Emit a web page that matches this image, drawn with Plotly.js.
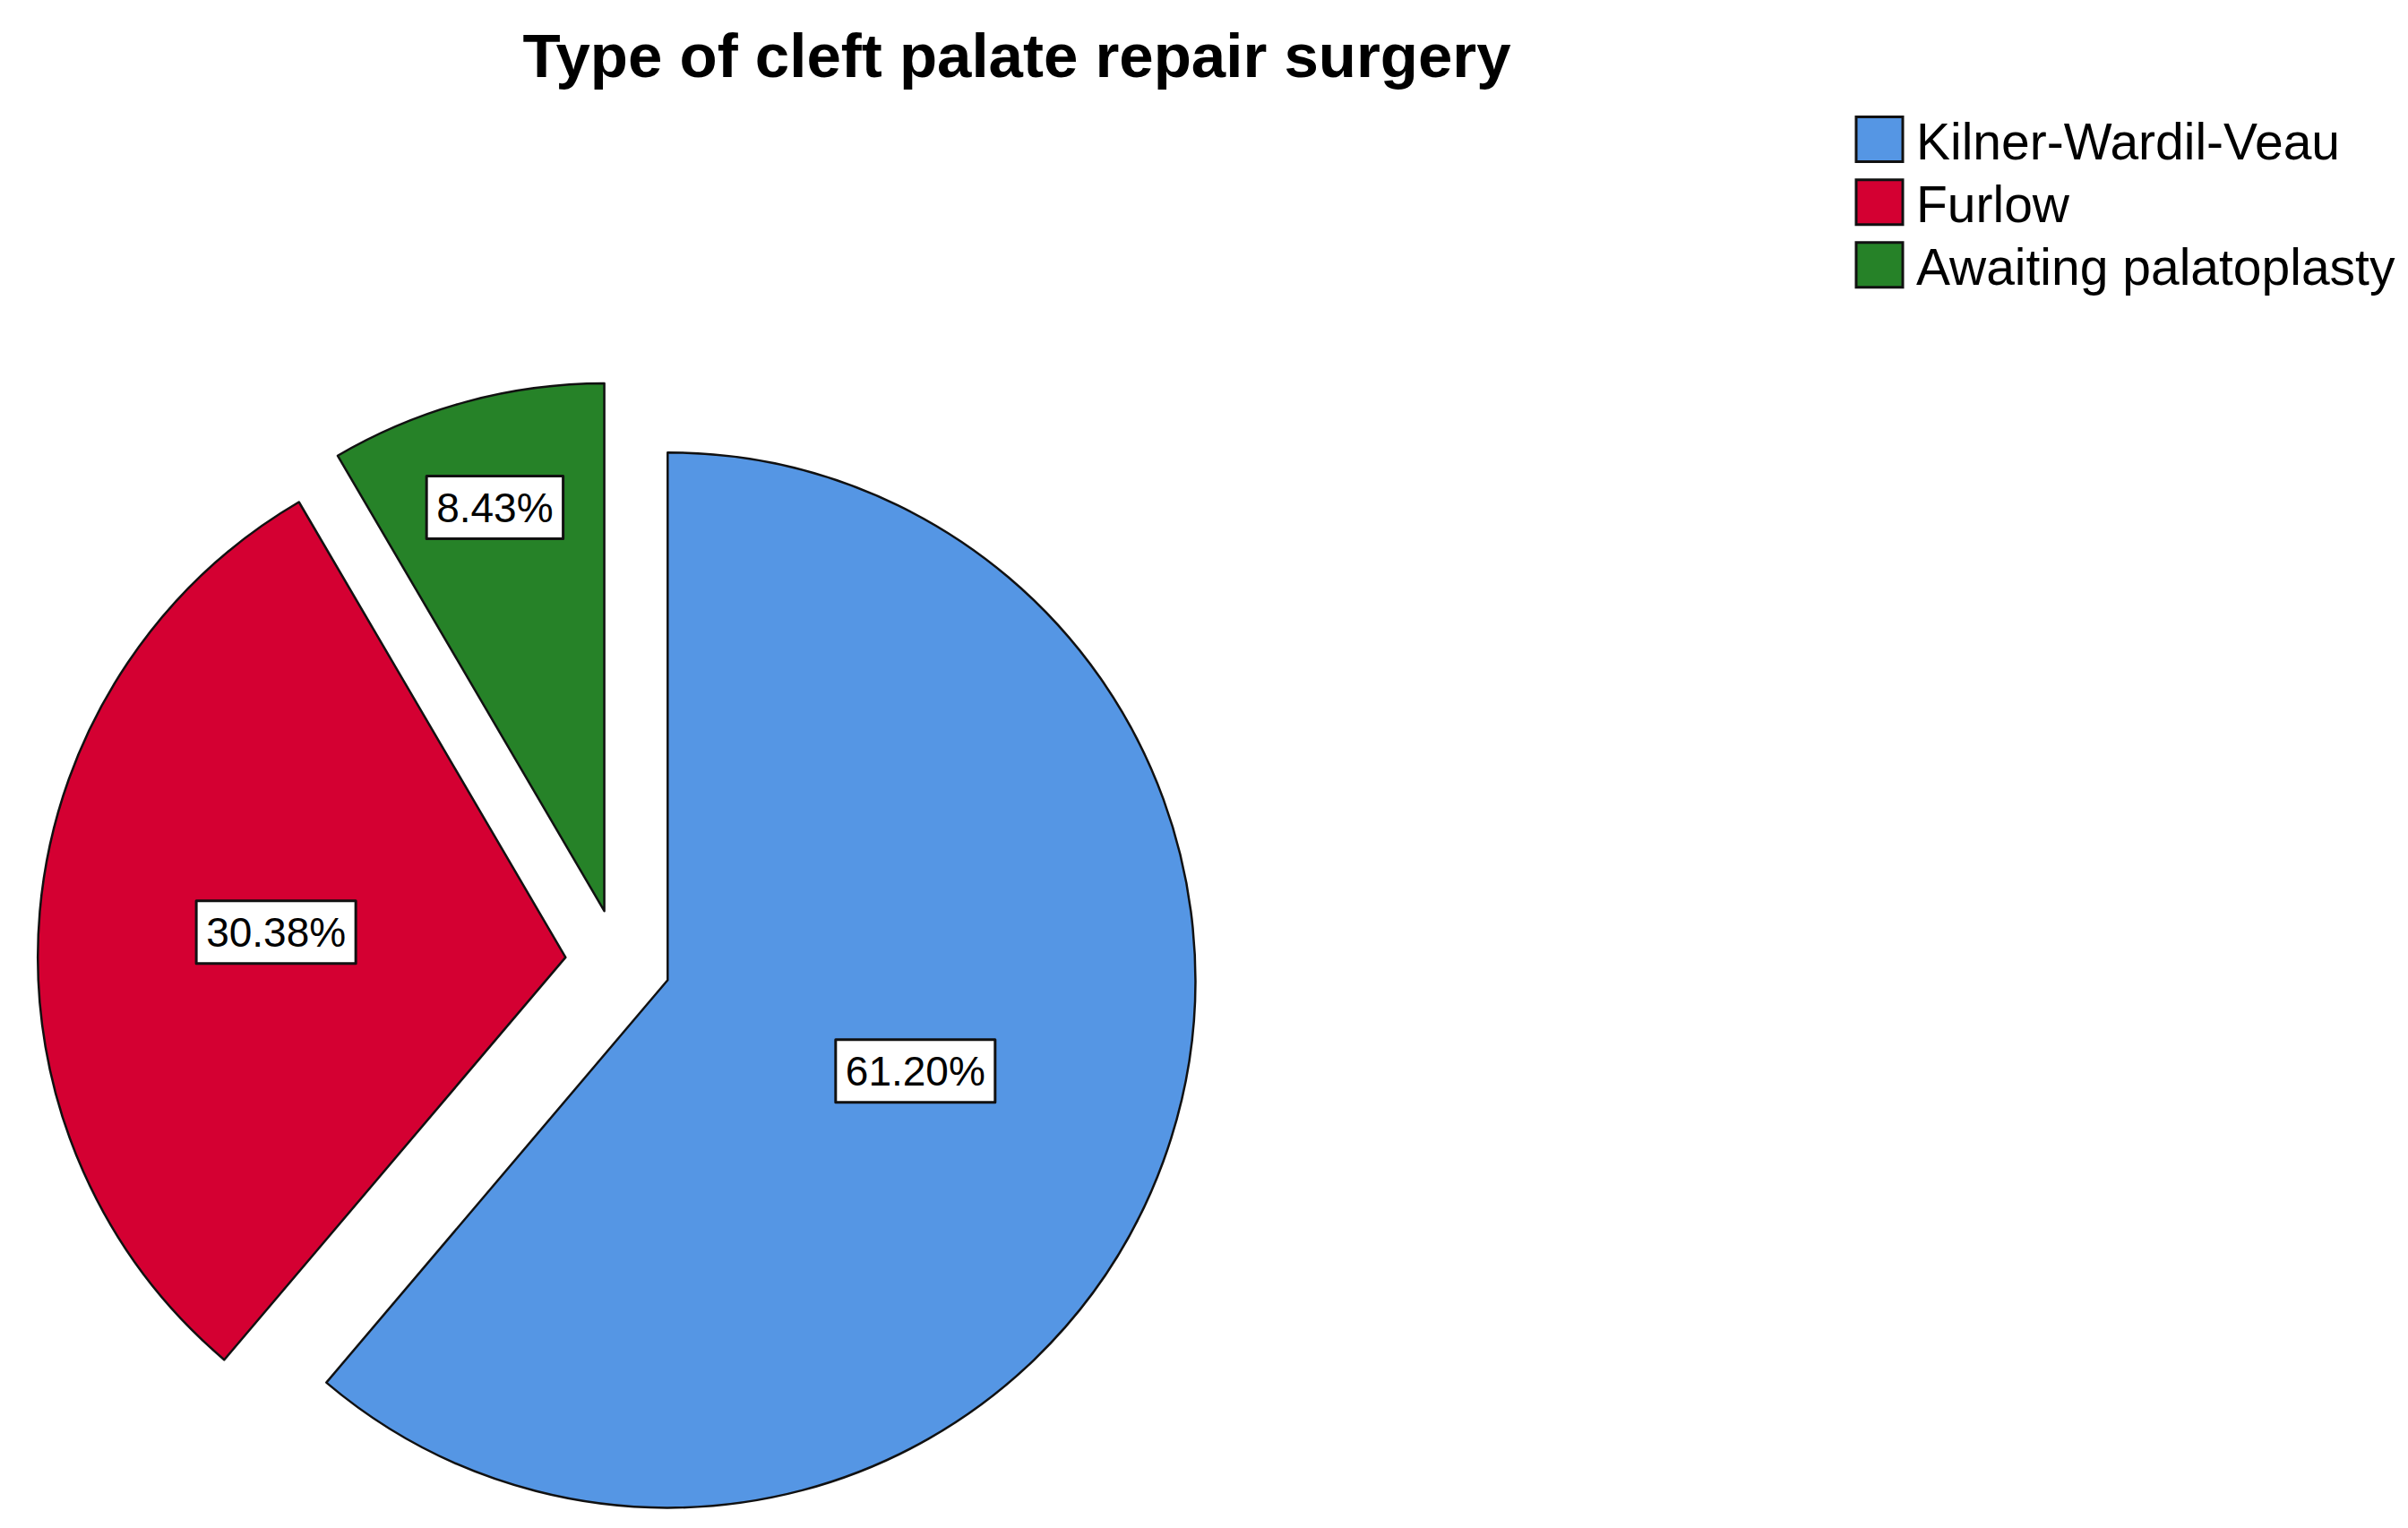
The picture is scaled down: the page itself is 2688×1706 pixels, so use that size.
<!DOCTYPE html>
<html>
<head>
<meta charset="utf-8">
<script src="https://cdn.plot.ly/plotly-3.0.1.min.js"></script>
<style>html,body{margin:0;padding:0;background:#fff;overflow:hidden;}#chart{width:2688px;height:1722px;}</style>
</head>
<body>
<div id="chart"></div>
<script>
const categories = ["Kilner-Wardil-Veau", "Furlow", "Awaiting palatoplasty"];
const percents = [61.20, 30.38, 8.43];
const sliceColors = ["#5596e4", "#d40032", "#268228"];
const chartTitle = "Type of cleft palate repair surgery";

const W = 2688, H = 1722;   // a few px taller than the window so the pie can sit low
const CX = 690, HALF = 648;
const trace = {
  type: "pie",
  labels: categories,
  values: percents,
  sort: false,
  direction: "clockwise",
  rotation: 0,
  pull: [0.1, 0.1, 0.1],
  marker: { colors: sliceColors, line: { color: "#111", width: 2.5 } },
  texttemplate: "%{value:.2f}%",
  textposition: "inside",
  insidetextorientation: "horizontal",
  textfont: { family: "Liberation Sans, Arial, sans-serif", size: 46, color: "#000" },
  hoverinfo: "none",
  domain: { x: [(CX - HALF) / W, (CX + HALF) / W], y: [0, (2 * HALF) / H] }
};

const layout = {
  width: W, height: H,
  margin: { l: 0, r: 0, t: 0, b: 0 },
  paper_bgcolor: "#fff",
  title: {
    text: "<b>" + chartTitle + "</b>",
    x: 1135 / W, xanchor: "center",
    y: 1 - 62 / H, yanchor: "middle",
    font: { family: "Liberation Sans, Arial, sans-serif", size: 69, color: "#000" }
  },
  showlegend: true,
  legend: {
    x: 2066 / W, xanchor: "left",
    y: 1 - 112 / H, yanchor: "top",
    font: { family: "Liberation Sans, Arial, sans-serif", size: 57, color: "#000" },
    itemwidth: 63,
    tracegroupgap: 0,
    bgcolor: "rgba(0,0,0,0)"
  }
};

Plotly.newPlot("chart", [trace], layout, { displayModeBar: false, staticPlot: true }).then(function (gd) {
  const NS = "http://www.w3.org/2000/svg";
  // white boxes behind slice labels
  gd.querySelectorAll(".pielayer .slice text").forEach(function (t) {
    const bb = t.getBBox();
    const padX = 11, padY = 9;
    const r = document.createElementNS(NS, "rect");
    r.setAttribute("x", bb.x - padX);
    r.setAttribute("y", bb.y - padY);
    r.setAttribute("width", bb.width + 2 * padX);
    r.setAttribute("height", bb.height + 2 * padY);
    r.setAttribute("fill", "#fff");
    r.setAttribute("stroke", "#111");
    r.setAttribute("stroke-width", "3");
    const tr = t.getAttribute("transform");
    if (tr) r.setAttribute("transform", tr);
    t.parentNode.insertBefore(r, t);
  });
  // larger legend swatches
  gd.querySelectorAll(".legend .legendpoints path").forEach(function (p) {
    p.setAttribute("d", "M26,25H-26V-25H26Z");
    p.setAttribute("transform", "translate(32,0)");
    p.style.strokeWidth = "3px";
    p.style.stroke = "#111";
  });
  // slightly tighter row spacing, as in the reference
  const items = Array.from(gd.querySelectorAll(".legend .traces"));
  const ys = items.map(function (g) {
    const m = /translate\(\s*([-\d.]+)[ ,]+([-\d.]+)/.exec(g.getAttribute("transform") || "");
    return m ? [parseFloat(m[1]), parseFloat(m[2])] : null;
  });
  if (ys.length && ys.every(Boolean)) {
    const y0 = ys[0][1];
    items.forEach(function (g, i) {
      g.setAttribute("transform", "translate(" + ys[i][0] + "," + (y0 + (ys[i][1] - y0) * 0.91) + ")");
    });
  }
});
</script>
</body>
</html>
